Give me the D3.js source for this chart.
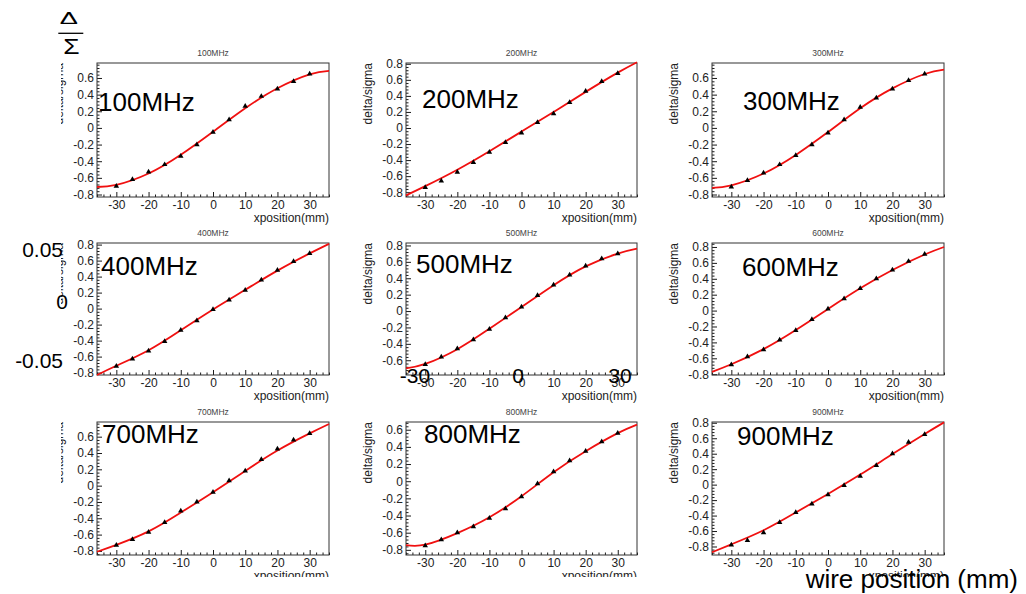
<!DOCTYPE html>
<html>
<head>
<meta charset="utf-8">
<script src="https://cdn.jsdelivr.net/npm/d3@7"></script>
<style>
  body { margin: 0; background: #fff; }
  svg { display: block; }
  text { font-family: "Liberation Sans", Arial, Helvetica, sans-serif; }
</style>
</head>
<body>
<svg id="chart" width="1026" height="594"></svg>
<script>
// ---- data -------------------------------------------------------------
const frequencies = ["100MHz", "200MHz", "300MHz", "400MHz", "500MHz", "600MHz", "700MHz", "800MHz", "900MHz"];
const xPositions = [-30, -25, -20, -15, -10, -5, 0, 5, 10, 15, 20, 25, 30];

// measured delta/sigma at each wire position
const ds100 = [-0.70, -0.62, -0.53, -0.44, -0.34, -0.20, -0.05, 0.10, 0.26, 0.38, 0.47, 0.56, 0.65];
const ds200 = [-0.74, -0.66, -0.55, -0.43, -0.30, -0.18, -0.06, 0.07, 0.18, 0.32, 0.46, 0.58, 0.68];
const ds300 = [-0.71, -0.63, -0.54, -0.44, -0.33, -0.20, -0.06, 0.10, 0.25, 0.36, 0.47, 0.57, 0.65];
const ds400 = [-0.72, -0.63, -0.53, -0.41, -0.27, -0.15, -0.01, 0.11, 0.23, 0.36, 0.48, 0.59, 0.69];
const ds500 = [-0.65, -0.56, -0.46, -0.35, -0.22, -0.08, 0.05, 0.19, 0.32, 0.44, 0.55, 0.64, 0.70];
const ds600 = [-0.68, -0.58, -0.49, -0.37, -0.25, -0.11, 0.02, 0.15, 0.28, 0.40, 0.51, 0.62, 0.71];
const ds700 = [-0.73, -0.66, -0.57, -0.45, -0.31, -0.20, -0.08, 0.06, 0.18, 0.32, 0.45, 0.56, 0.64];
const ds800 = [-0.75, -0.68, -0.60, -0.53, -0.43, -0.32, -0.18, -0.03, 0.11, 0.24, 0.35, 0.46, 0.56];
const ds900 = [-0.78, -0.72, -0.62, -0.49, -0.36, -0.25, -0.13, -0.01, 0.11, 0.25, 0.40, 0.55, 0.65];

// fitted curve, sampled across the full axis range
const fitX = [-36, -30, -20, -10, 0, 10, 20, 30, 36];
const fit100 = [-0.71, -0.685, -0.548, -0.323, -0.046, 0.236, 0.477, 0.644, 0.685];
const fit200 = [-0.84, -0.725, -0.52, -0.29, -0.045, 0.20, 0.45, 0.69, 0.82];
const fit300 = [-0.72, -0.69, -0.548, -0.325, -0.05, 0.236, 0.475, 0.648, 0.70];
const fit400 = [-0.83, -0.715, -0.52, -0.27, -0.01, 0.235, 0.475, 0.69, 0.81];
const fit500 = [-0.70, -0.645, -0.465, -0.215, 0.05, 0.315, 0.545, 0.70, 0.76];
const fit600 = [-0.77, -0.675, -0.485, -0.245, 0.02, 0.28, 0.51, 0.705, 0.80];
const fit700 = [-0.81, -0.725, -0.56, -0.33, -0.08, 0.18, 0.43, 0.64, 0.755];
const fit800 = [-0.745, -0.74, -0.605, -0.42, -0.175, 0.105, 0.35, 0.56, 0.66];
const fit900 = [-0.875, -0.772, -0.59, -0.36, -0.12, 0.13, 0.395, 0.655, 0.805];

// axis ranges
const xRange = [-36, 36];
const yRange100 = [-0.83, 0.78];
const yRange200 = [-0.86, 0.81];
const yRange300 = [-0.83, 0.78];
const yRange400 = [-0.83, 0.82];
const yRange500 = [-0.78, 0.83];
const yRange600 = [-0.81, 0.85];
const yRange700 = [-0.85, 0.78];
const yRange800 = [-0.86, 0.69];
const yRange900 = [-0.91, 0.81];

const xMajorTicks = [-30, -20, -10, 0, 10, 20, 30];

// figure annotations
const yNoteLabels = ["0.05", "0", "-0.05"];
const xNoteLabels = ["-30", "0", "30"];
const xNoteTitle = "wire position (mm)";

const panels = [
  { label: frequencies[0], values: ds100, fit: fit100, yRange: yRange100 },
  { label: frequencies[1], values: ds200, fit: fit200, yRange: yRange200 },
  { label: frequencies[2], values: ds300, fit: fit300, yRange: yRange300 },
  { label: frequencies[3], values: ds400, fit: fit400, yRange: yRange400 },
  { label: frequencies[4], values: ds500, fit: fit500, yRange: yRange500 },
  { label: frequencies[5], values: ds600, fit: fit600, yRange: yRange600 },
  { label: frequencies[6], values: ds700, fit: fit700, yRange: yRange700 },
  { label: frequencies[7], values: ds800, fit: fit800, yRange: yRange800 },
  { label: frequencies[8], values: ds900, fit: fit900, yRange: yRange900 }
];

// ---- layout -----------------------------------------------------------
const colLeft = [97, 406, 712], colRight = [329, 637, 944];
const rowTop = [63, 243, 422], rowBottom = [197, 375, 555];
const bigLabelPos = [[98, 111], [422, 108], [743, 110], [101, 275], [416, 273], [742, 276], [102, 443], [424, 443], [737, 445]];

const svg = d3.select("#chart");
svg.append("rect").attr("width", 1026).attr("height", 594).attr("fill", "#fff");

svg.append("defs").append("clipPath").attr("id", "canvasClip")
  .append("rect").attr("x", 61).attr("y", 0).attr("width", 1026 - 61).attr("height", 577);

const tickFmt = v => Math.abs(v) < 1e-9 ? "0" : String(+v.toFixed(1));
const inkCol = "#1a1a1a";

panels.forEach((p, i) => {
  const c = i % 3, r = Math.floor(i / 3);
  const x0 = colLeft[c], x1 = colRight[c], y0 = rowTop[r], y1 = rowBottom[r];
  const x = d3.scaleLinear().domain(xRange).range([x0, x1]);
  const y = d3.scaleLinear().domain(p.yRange).range([y1, y0]);

  const g = svg.append("g").attr("clip-path", "url(#canvasClip)");

  // pad title
  g.append("text").attr("x", (x0 + x1) / 2).attr("y", y0 - 7)
    .attr("text-anchor", "middle").attr("font-size", 8.5).attr("fill", "#444")
    .text(p.label);

  // x axis (ticks drawn inward)
  const minorX = d3.range(xRange[0], xRange[1] + 0.001, 2).filter(v => v % 10 !== 0);
  g.append("g").attr("transform", `translate(0,${y1})`)
    .call(d3.axisBottom(x).tickValues(minorX).tickSize(-2.5).tickFormat(""))
    .call(a => a.select(".domain").remove())
    .call(a => a.selectAll("line").attr("stroke", inkCol));
  g.append("g").attr("transform", `translate(0,${y1})`)
    .call(d3.axisBottom(x).tickValues(xMajorTicks).tickSizeInner(-5).tickSizeOuter(0).tickPadding(3).tickFormat(d => String(d)))
    .call(a => a.select(".domain").remove())
    .call(a => a.selectAll("line").attr("stroke", inkCol))
    .call(a => a.selectAll("text").attr("font-size", 12).attr("fill", "#222")
      .attr("font-family", '"Liberation Sans", Arial, sans-serif'));

  // y axis (ticks drawn inward)
  const yMajor = d3.range(-1.0, 1.0001, 0.2).map(v => +v.toFixed(1))
    .filter(v => v >= p.yRange[0] - 1e-9 && v <= p.yRange[1] + 1e-9);
  const yMinor = d3.range(-1.0, 1.0001, 0.04).map(v => +v.toFixed(2))
    .filter(v => v >= p.yRange[0] && v <= p.yRange[1] && Math.abs(v * 5 - Math.round(v * 5)) > 1e-6);
  g.append("g").attr("transform", `translate(${x0},0)`)
    .call(d3.axisLeft(y).tickValues(yMinor).tickSize(-2.5).tickFormat(""))
    .call(a => a.select(".domain").remove())
    .call(a => a.selectAll("line").attr("stroke", inkCol));
  g.append("g").attr("transform", `translate(${x0},0)`)
    .call(d3.axisLeft(y).tickValues(yMajor).tickSizeInner(-5).tickSizeOuter(0).tickPadding(3).tickFormat(tickFmt))
    .call(a => a.select(".domain").remove())
    .call(a => a.selectAll("line").attr("stroke", inkCol))
    .call(a => a.selectAll("text").attr("font-size", 12).attr("fill", "#222")
      .attr("font-family", '"Liberation Sans", Arial, sans-serif'));

  // frame
  g.append("rect").attr("x", x0).attr("y", y0).attr("width", x1 - x0).attr("height", y1 - y0)
    .attr("fill", "none").attr("stroke", "#333").attr("stroke-width", 1);

  // axis titles
  g.append("text").attr("x", x1).attr("y", y1 + 25).attr("text-anchor", "end")
    .attr("font-size", 12).attr("fill", "#222").text("xposition(mm)");
  g.append("text").attr("transform", `translate(${x0 - 34},${y0}) rotate(-90)`)
    .attr("text-anchor", "end").attr("font-size", 12).attr("fill", "#222").text("delta/sigma");

  // fit curve
  const line = d3.line().x((d, k) => x(fitX[k])).y(d => y(d)).curve(d3.curveNatural);
  g.append("path").datum(p.fit).attr("d", line)
    .attr("fill", "none").attr("stroke", "#f01010").attr("stroke-width", 1.8);

  // data markers
  g.selectAll("path.pt").data(p.values).join("path").attr("class", "pt")
    .attr("transform", (d, k) => `translate(${x(xPositions[k])},${y(d)})`)
    .attr("d", d3.symbol(d3.symbolTriangle, 13)).attr("fill", "#000");

  // large frequency label
  svg.append("text").attr("x", bigLabelPos[i][0]).attr("y", bigLabelPos[i][1])
    .attr("font-size", 26).attr("fill", "#000").text(p.label);
});

// ---- annotations ----------------------------------------------------------
// delta over sigma
const serif = '"Liberation Serif", "Times New Roman", serif';
const frac = svg.append("g");
frac.append("text").attr("transform", "translate(68.8,24.3) scale(1.6,1)")
  .attr("text-anchor", "middle").attr("font-family", serif).attr("font-size", 17).text("\u0394");
frac.append("line").attr("x1", 58.3).attr("x2", 83.3).attr("y1", 33.3).attr("y2", 33.3)
  .attr("stroke", "#000").attr("stroke-width", 1.3);
frac.append("text").attr("transform", "translate(71.3,54) scale(1.2,1)")
  .attr("text-anchor", "middle").attr("font-family", serif).attr("font-size", 22).text("\u03A3");

// vertical scale notes
const yNotePos = [[63, 257, "end"], [62, 309, "middle"], [63, 368, "end"]];
yNoteLabels.forEach((t, k) => {
  svg.append("text").attr("x", yNotePos[k][0]).attr("y", yNotePos[k][1])
    .attr("text-anchor", yNotePos[k][2]).attr("font-size", 21).attr("fill", "#000").text(t);
});

// horizontal scale notes
const xNotePos = [415, 518, 620];
xNoteLabels.forEach((t, k) => {
  svg.append("text").attr("x", xNotePos[k]).attr("y", 383)
    .attr("text-anchor", "middle").attr("font-size", 21).attr("fill", "#000").text(t);
});

svg.append("text").attr("x", 1018).attr("y", 588).attr("text-anchor", "end")
  .attr("font-size", 26).attr("fill", "#000").text(xNoteTitle);
</script>
</body>
</html>
